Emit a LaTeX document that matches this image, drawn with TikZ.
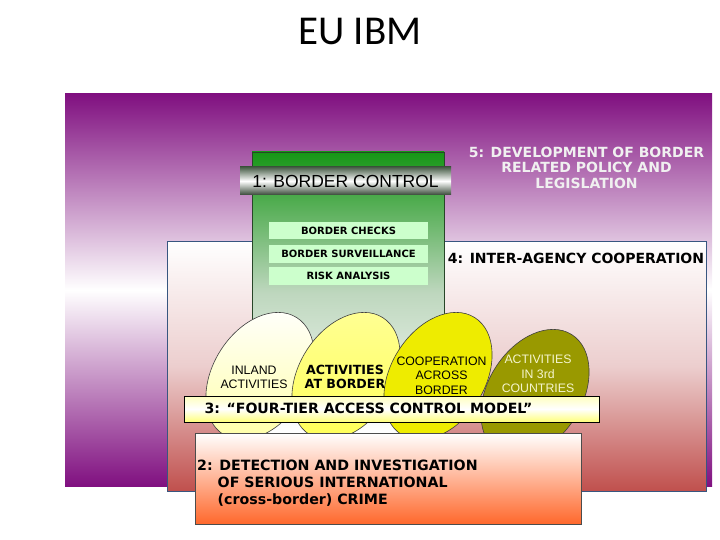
\documentclass[tikz,border=0pt]{standalone}
\usepackage{fontspec}
\setmainfont{Liberation Sans}
\newfontfamily\titlefont{Carlito}
\newfontfamily\verdfont{DejaVu Sans}
\usetikzlibrary{shapes.geometric}

\definecolor{plum}{RGB}{128,16,128}
\definecolor{brick}{RGB}{192,80,77}
\definecolor{blush}{RGB}{236,206,206}
\definecolor{frameblue}{RGB}{56,86,128}
\definecolor{grass}{RGB}{22,150,22}
\definecolor{paleleaf}{RGB}{190,215,190}
\definecolor{leafedge}{RGB}{40,70,40}
\definecolor{bandtop}{RGB}{70,92,70}
\definecolor{bandbot}{RGB}{55,72,55}
\definecolor{mint}{RGB}{204,255,204}
\definecolor{cream}{RGB}{255,255,170}
\definecolor{butter}{RGB}{255,255,150}
\definecolor{canary}{RGB}{255,255,90}
\definecolor{lemon}{RGB}{238,236,0}
\definecolor{oliveleaf}{RGB}{153,153,0}
\definecolor{tiertop}{RGB}{255,255,190}
\definecolor{tierbot}{RGB}{255,255,120}
\definecolor{tangerine}{RGB}{255,104,44}
\definecolor{snow}{RGB}{240,240,240}
\definecolor{paper}{RGB}{245,245,205}

\begin{document}
\begin{tikzpicture}[x=1pt, y=-1pt,
    tier/.style={ellipse, draw=black!75, line width=0.6pt, inner sep=0pt,
        minimum width=94pt, minimum height=138pt, rotate=-32},
    tier_text/.style={align=center, inner sep=0pt, font=\fontsize{12.3}{14.3}\selectfont},
    task/.style={fill=mint, minimum width=159pt, minimum height=17.5pt, inner sep=0pt,
        font=\verdfont\bfseries\fontsize{10}{12}\selectfont},
    layer/.style={inner sep=0pt, font=\verdfont\bfseries\fontsize{14}{15.5}\selectfont}
]
    \useasboundingbox (0,0) rectangle (720,540);
    \node[font=\titlefont\fontsize{41}{48}\selectfont] (title) at (360,31) {EU IBM};

    \shade[top color=plum, bottom color=plum, middle color=white] (65,94) rectangle (712,486);
    \node[layer, align=center, text=snow] (policy) at (586.5,167.5)
        {5: DEVELOPMENT OF BORDER\\RELATED POLICY AND\\LEGISLATION};

    \shade[draw=frameblue, top color=white, bottom color=brick, middle color=blush] (167,241) rectangle (706,491);
    \node[layer] (agency) at (576,258) {4: INTER-AGENCY COOPERATION};

    \shade[draw=leafedge, top color=grass, bottom color=white, middle color=paleleaf] (252,152) rectangle (444,433);
    \shade[top color=bandtop, bottom color=bandbot, middle color=white] (240,167) rectangle (451,195);
    \node[font=\fontsize{17.5}{20}\selectfont] (control) at (345.5,181) {1: BORDER CONTROL};
    \node[task] (checks) at (348.5,230.5) {BORDER CHECKS};
    \node[task] (surveil) at (348.5,254) {BORDER SURVEILLANCE};
    \node[task] (risk) at (348.5,276) {RISK ANALYSIS};

    \node[tier, top color=white, bottom color=cream] (inland) at (260,376) {};
    \node[tier, top color=butter, bottom color=canary] (atborder) at (346,376) {};
    \node[tier, fill=lemon] (across) at (438,376) {};
    \node[tier, fill=oliveleaf] (third) at (535,393) {};
    \node[tier_text] (inland_t) at (254,377) {INLAND\\ACTIVITIES};
    \node[tier_text, font=\verdfont\bfseries\fontsize{12.6}{14.3}\selectfont] (atborder_t) at (345,377) {ACTIVITIES\\AT BORDER};
    \node[tier_text] (across_t) at (441.5,375.5) {COOPERATION\\ACROSS\\BORDER};
    \node[tier_text, text=paper] (third_t) at (538,374) {ACTIVITIES\\IN 3rd\\COUNTRIES};

    \shade[draw=black, top color=tiertop, bottom color=tierbot, middle color=white] (184,396) rectangle (599,422);
    \node[inner sep=0pt, font=\verdfont\bfseries\fontsize{14.1}{17}\selectfont] (model) at (368.5,408)
        {3: “FOUR-TIER ACCESS CONTROL MODEL”};

    \shade[draw=black!70, top color=white, bottom color=tangerine] (195,433) rectangle (581,524);
    \node[anchor=north west, align=left, inner sep=0pt, font=\verdfont\bfseries\fontsize{14.2}{17}\selectfont] (crime) at (197,460)
        {2: DETECTION AND INVESTIGATION\\\phantom{2:~}OF SERIOUS INTERNATIONAL\\\phantom{2:~}(cross-border) CRIME};
\end{tikzpicture}
\end{document}
